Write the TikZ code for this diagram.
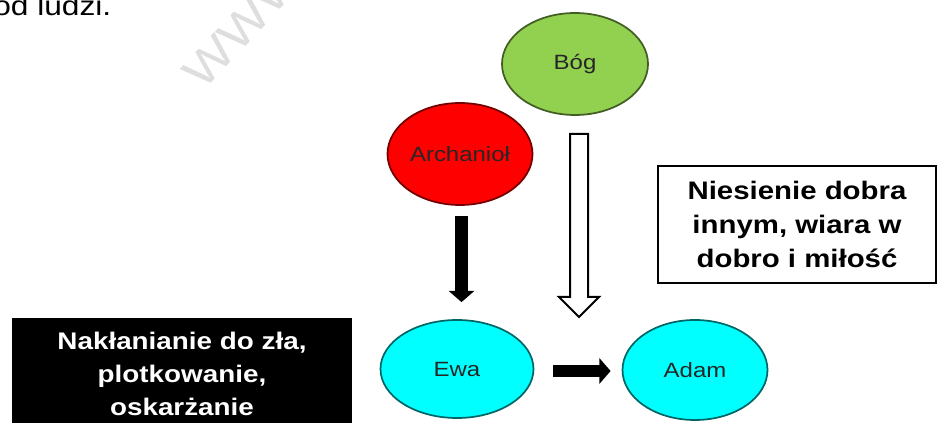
\documentclass[tikz,border=0pt]{standalone}
\usepackage{fontspec}
\setmainfont{Liberation Sans}[FakeStretch=1.16]
\usetikzlibrary{shapes.geometric,arrows.meta,calc}
\definecolor{godgreen}{HTML}{92D050}
\definecolor{angelred}{HTML}{FF0000}
\definecolor{humancyan}{HTML}{00FFFF}
\tikzset{
  person/.style={ellipse, inner sep=0pt, line width=1.3pt, text=black!85,
    font=\fontsize{15.5pt}{18pt}\selectfont},
  caption/.style={draw=black, line width=1.5pt, align=center,
    font=\fontsize{19pt}{25.5pt}\selectfont\bfseries},
  darkcaption/.style={fill=black, text=white, align=center,
    font=\fontsize{18pt}{25pt}\selectfont\bfseries},
  solidarrow/.style={line width=9.5pt, -{Triangle[length=8.5pt, width=19pt]}},
  hollowarrow/.style={draw=black, fill=white, line width=1.5pt, line join=miter}
}
\begin{document}
\begin{tikzpicture}[x=0.75pt, y=-0.75pt]
\useasboundingbox (0,0) rectangle (938,423);
\clip (0,0) rectangle (938,423);

% page text above the figure
\node[anchor=base west, inner sep=0pt, font=\fontsize{20.5pt}{24pt}\selectfont] (pagetext) at (-7,16) {od ludzi.};
\node[rotate=47, text=black!13, font=\fontsize{35pt}{36pt}\selectfont, anchor=base west, inner sep=0pt] (mark) at (203,92) {WWW.};

% figures
\node[person, fill=godgreen, draw=godgreen!45!black, minimum width=146*0.75pt, minimum height=102*0.75pt] (bog) at (575,64) {Bóg};
\node[person, fill=angelred, draw=angelred!45!black, minimum width=145*0.75pt, minimum height=102*0.75pt] (arch) at (460,154) {Archanioł};
\node[person, fill=humancyan, draw=humancyan!40!black, minimum width=153*0.75pt, minimum height=98*0.75pt] (ewa) at (457,369) {Ewa};
\node[person, fill=humancyan, draw=humancyan!40!black, minimum width=145*0.75pt, minimum height=100*0.75pt] (adam) at (695,370) {Adam};

% captions
\node[caption, minimum width=278*0.75pt, minimum height=117*0.75pt] (good) at (797,224.5)
  {Niesienie dobra\\innym, wiara w\\dobro i miłość};
\node[darkcaption, minimum width=340*0.75pt, minimum height=112*0.75pt] (evil) at (182,374)
  {Nakłanianie do zła,\\plotkowanie,\\oskarżanie};

% arrows
\coordinate (archout) at ($(arch.south)+(1.5,10)$);
\coordinate (ewain) at ($(ewa.north)+(4.5,-17)$);
\draw[solidarrow] (archout) -- (ewain);

\coordinate (ewaout) at ($(ewa.east)+(19,2)$);
\coordinate (adamin) at ($(adam.west)+(-11,1)$);
\draw[solidarrow] (ewaout) -- (adamin);

\coordinate (bogout) at ($(bog.south)+(4,18)$);
\coordinate (godtip) at (579,317);
\draw[hollowarrow] ($(bogout)+(-9,0)$) -- ($(bogout)+(9,0)$) -- ($(godtip)+(9,-20)$)
  -- ($(godtip)+(20,-20)$) -- (godtip) -- ($(godtip)+(-20,-20)$)
  -- ($(godtip)+(-9,-20)$) -- cycle;
\end{tikzpicture}
\end{document}
